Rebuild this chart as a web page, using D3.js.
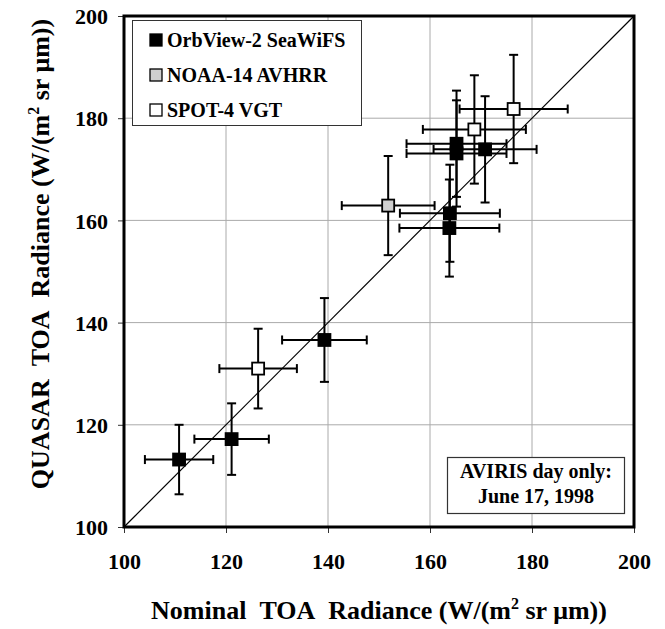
<!DOCTYPE html>
<html>
<head>
<meta charset="utf-8">
<script src="https://cdn.jsdelivr.net/npm/d3@7/dist/d3.min.js"></script>
<style>
    body { margin: 0; background: #fff; }
    svg text { font-family: "Liberation Serif", "Times New Roman", serif; font-weight: bold; fill: #000; }
</style>
</head>
<body>
<div id="chart"></div>
<script>
// Radiance pairs: nominal (x), QUASAR (y), with error half-widths
const seawifs = [
    { x: 110.8, y: 113.2, ex: 6.7, ey: 6.8 },
    { x: 121.1, y: 117.2, ex: 7.3, ey: 7.0 },
    { x: 139.3, y: 136.6, ex: 8.3, ey: 8.2 },
    { x: 163.9, y: 161.4, ex: 9.8, ey: 9.5 },
    { x: 163.8, y: 158.5, ex: 9.8, ey: 9.5 },
    { x: 165.2, y: 175.0, ex: 9.8, ey: 10.4 },
    { x: 165.2, y: 173.1, ex: 9.8, ey: 10.4 },
    { x: 170.8, y: 173.9, ex: 10.1, ey: 10.4 }
];
const avhrr = [
    { x: 151.8, y: 162.9, ex: 9.1, ey: 9.7 }
];
const vgt = [
    { x: 126.3, y: 131.0, ex: 7.6, ey: 7.8 },
    { x: 168.7, y: 177.8, ex: 10.1, ey: 10.6 },
    { x: 176.4, y: 181.8, ex: 10.6, ey: 10.6 }
];
const seriesNames = ["OrbView-2 SeaWiFS", "NOAA-14 AVHRR", "SPOT-4 VGT"];
const seriesFills = ["#000", "#cfcfcf", "#fff"];
const ticks = [100, 120, 140, 160, 180, 200];
const noteLines = ["AVIRIS day only:", "June 17, 1998"];

const width = 665, height = 629;
const margin = { top: 16, right: 31, bottom: 102, left: 124 };

const svg = d3.select("#chart").append("svg")
    .attr("width", width)
    .attr("height", height);

const x = d3.scaleLinear().domain([100, 200]).range([margin.left, width - margin.right]);
const y = d3.scaleLinear().domain([100, 200]).range([height - margin.bottom, margin.top]);

// gridlines
svg.append("g")
    .selectAll("line")
    .data(ticks.slice(1, -1))
    .join("line")
    .attr("x1", d => x(d)).attr("x2", d => x(d))
    .attr("y1", y(100)).attr("y2", y(200))
    .attr("stroke", "#aaa").attr("stroke-width", 1);
svg.append("g")
    .selectAll("line")
    .data(ticks.slice(1, -1))
    .join("line")
    .attr("y1", d => y(d)).attr("y2", d => y(d))
    .attr("x1", x(100)).attr("x2", x(200))
    .attr("stroke", "#aaa").attr("stroke-width", 1);

// axes (ticks outside)
const xAxis = svg.append("g")
    .attr("transform", `translate(0,${y(100)})`)
    .call(d3.axisBottom(x).tickValues(ticks).tickSize(6).tickPadding(20));
const yAxis = svg.append("g")
    .attr("transform", `translate(${x(100)},0)`)
    .call(d3.axisLeft(y).tickValues(ticks).tickSize(6).tickPadding(10));
[xAxis, yAxis].forEach(g => {
    g.select(".domain").remove();
    g.selectAll(".tick line").attr("stroke", "#333");
    g.selectAll(".tick text")
        .style("font-size", "22px")
        .style("font-family", '"Liberation Serif", "Times New Roman", serif')
        .style("font-weight", "bold")
        .attr("fill", "#000");
});
yAxis.selectAll(".tick text").attr("dy", "0.35em");

// 1:1 line
svg.append("line")
    .attr("x1", x(100)).attr("y1", y(100))
    .attr("x2", x(200)).attr("y2", y(200))
    .attr("stroke", "#000").attr("stroke-width", 1.2);

// plot frame
svg.append("rect")
    .attr("x", x(100)).attr("y", y(200))
    .attr("width", x(200) - x(100)).attr("height", y(100) - y(200))
    .attr("fill", "none").attr("stroke", "#000").attr("stroke-width", 3);

// error bars + markers
const cap = 4.5, size = 12;
function drawSeries(data, fill) {
    const g = svg.append("g");
    data.forEach(d => {
        const eb = g.append("g").attr("stroke", "#000").attr("stroke-width", 2);
        eb.append("line").attr("x1", x(d.x - d.ex)).attr("x2", x(d.x + d.ex)).attr("y1", y(d.y)).attr("y2", y(d.y));
        eb.append("line").attr("x1", x(d.x)).attr("x2", x(d.x)).attr("y1", y(d.y - d.ey)).attr("y2", y(d.y + d.ey));
        [d.x - d.ex, d.x + d.ex].forEach(v => eb.append("line")
            .attr("x1", x(v)).attr("x2", x(v)).attr("y1", y(d.y) - cap).attr("y2", y(d.y) + cap));
        [d.y - d.ey, d.y + d.ey].forEach(v => eb.append("line")
            .attr("y1", y(v)).attr("y2", y(v)).attr("x1", x(d.x) - cap).attr("x2", x(d.x) + cap));
    });
    g.selectAll("rect")
        .data(data)
        .join("rect")
        .attr("x", d => x(d.x) - size / 2)
        .attr("y", d => y(d.y) - size / 2)
        .attr("width", size).attr("height", size)
        .attr("fill", fill)
        .attr("stroke", "#000").attr("stroke-width", 1.8);
}
drawSeries(seawifs, seriesFills[0]);
drawSeries(avhrr, seriesFills[1]);
drawSeries(vgt, seriesFills[2]);

// legend
const legend = svg.append("g");
legend.append("rect")
    .attr("x", 132.5).attr("y", 20.5).attr("width", 229).attr("height", 105)
    .attr("fill", "#fff").attr("stroke", "#333").attr("stroke-width", 1);
seriesNames.forEach((name, i) => {
    const cy = 40 + i * 35;
    legend.append("rect")
        .attr("x", 150).attr("y", cy - 6).attr("width", 12).attr("height", 12)
        .attr("fill", seriesFills[i]).attr("stroke", "#000").attr("stroke-width", 1.3);
    legend.append("text")
        .attr("x", 167).attr("y", cy + 7)
        .style("font-size", "20px")
        .text(name);
});

// note box
const note = svg.append("g");
note.append("rect")
    .attr("x", 447.5).attr("y", 457.5).attr("width", 177).attr("height", 56)
    .attr("fill", "#fff").attr("stroke", "#333").attr("stroke-width", 1.2);
noteLines.forEach((t, i) => {
    note.append("text")
        .attr("x", 536).attr("y", 478 + i * 25)
        .attr("text-anchor", "middle")
        .style("font-size", "20px")
        .text(t);
});

// axis titles
const xt = svg.append("text")
    .attr("x", (x(100) + x(200)) / 2).attr("y", 619)
    .attr("text-anchor", "middle")
    .style("font-size", "26px");
xt.append("tspan").text("Nominal\u00a0\u00a0TOA\u00a0\u00a0Radiance (W/(m");
xt.append("tspan").attr("dy", -10).style("font-size", "16px").text("2");
xt.append("tspan").attr("dy", 10).text(" sr \u03bcm))");

const yt = svg.append("text")
    .attr("transform", `translate(49,254) rotate(-90)`)
    .attr("text-anchor", "middle")
    .style("font-size", "26px");
yt.append("tspan").text("QUASAR\u00a0\u00a0TOA\u00a0\u00a0Radiance (W/(m");
yt.append("tspan").attr("dy", -10).style("font-size", "16px").text("2");
yt.append("tspan").attr("dy", 10).text(" sr \u03bcm))");
</script>
</body>
</html>
